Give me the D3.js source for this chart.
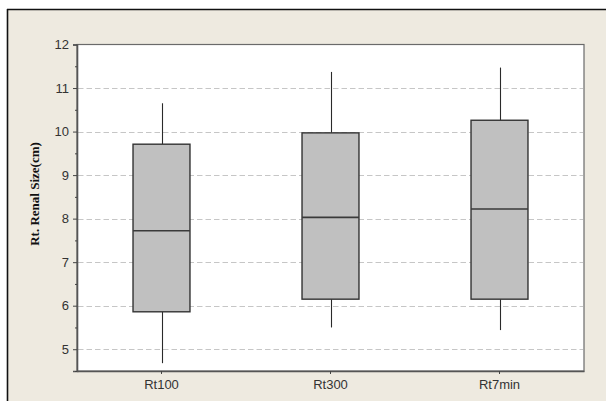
<!DOCTYPE html>
<html>
<head>
<meta charset="utf-8">
<script src="https://cdn.jsdelivr.net/npm/d3@7"></script>
<style>
  html, body { margin: 0; padding: 0; background: #ffffff; }
  svg { display: block; }
</style>
</head>
<body>
<svg id="chart" width="606" height="401"></svg>
<script>
// Right renal size (cm) by acquisition group
const categories = ["Rt100", "Rt300", "Rt7min"];
const whiskerLow = [4.68, 5.50, 5.44];
const q1 = [5.86, 6.15, 6.15];
const median = [7.72, 8.03, 8.22];
const q3 = [9.71, 9.97, 10.26];
const whiskerHigh = [10.65, 11.37, 11.47];
const yMajorTicks = [5, 6, 7, 8, 9, 10, 11, 12];
const yMinorTicks = [4.5, 5.5, 6.5, 7.5, 8.5, 9.5, 10.5, 11.5];
const gridValues = [5, 6, 7, 8, 9, 10, 11];

const svg = d3.select("#chart");
const W = 606, H = 401;
const plot = { left: 77, right: 584, top: 44.5, bottom: 371 };

// outer beige panel with a black frame on top and left
svg.append("rect").attr("x", 7).attr("y", 9).attr("width", W).attr("height", H)
  .attr("fill", "#eeeae0");
svg.append("line").attr("x1", 7).attr("x2", W).attr("y1", 9.5).attr("y2", 9.5)
  .attr("stroke", "#111").attr("stroke-width", 1.6);
svg.append("line").attr("x1", 7.5).attr("x2", 7.5).attr("y1", 9).attr("y2", H)
  .attr("stroke", "#111").attr("stroke-width", 1.6);

// plot area
svg.append("rect").attr("x", plot.left).attr("y", plot.top)
  .attr("width", plot.right - plot.left).attr("height", plot.bottom - plot.top)
  .attr("fill", "#ffffff").attr("stroke", "#6a6a6a").attr("stroke-width", 1.2);

const x = d3.scaleBand().domain(categories).range([plot.left, plot.right]).padding(0);
const y = d3.scaleLinear().domain([4.5, 12]).range([plot.bottom, plot.top]);

// dashed grid lines
svg.append("g").selectAll("line").data(gridValues).join("line")
  .attr("x1", plot.left + 1).attr("x2", plot.right - 1)
  .attr("y1", d => Math.round(y(d)) + 0.5).attr("y2", d => Math.round(y(d)) + 0.5)
  .attr("stroke", "#c6c6c6").attr("stroke-width", 1).attr("stroke-dasharray", "5.5,3");

// boxes
const boxW = x.bandwidth() * 0.337;
const cx = i => x(categories[i]) + x.bandwidth() / 2;
const g = svg.append("g");
categories.forEach((c, i) => {
  const xc = Math.round(cx(i)) + 0.5;
  g.append("line").attr("x1", xc).attr("x2", xc)
    .attr("y1", y(whiskerHigh[i])).attr("y2", y(q3[i]))
    .attr("stroke", "#2a2a2a").attr("stroke-width", 1.1);
  g.append("line").attr("x1", xc).attr("x2", xc)
    .attr("y1", y(q1[i])).attr("y2", y(whiskerLow[i]))
    .attr("stroke", "#2a2a2a").attr("stroke-width", 1.1);
  g.append("rect").attr("x", cx(i) - boxW / 2).attr("y", y(q3[i]))
    .attr("width", boxW).attr("height", y(q1[i]) - y(q3[i]))
    .attr("fill", "#c0c0c0").attr("stroke", "#333").attr("stroke-width", 1.4);
  g.append("line").attr("x1", cx(i) - boxW / 2).attr("x2", cx(i) + boxW / 2)
    .attr("y1", y(median[i])).attr("y2", y(median[i]))
    .attr("stroke", "#3a3a3a").attr("stroke-width", 1.6);
});

// left axis
svg.append("g").attr("transform", `translate(${plot.left},0)`)
  .call(d3.axisLeft(y).tickValues(yMajorTicks).tickSize(4).tickPadding(4).tickFormat(d3.format("d")));
svg.append("g").attr("transform", `translate(${plot.left},0)`)
  .call(d3.axisLeft(y).tickValues(yMinorTicks).tickSize(2).tickFormat(""))
  .call(s => s.select(".domain").remove());
// bottom axis
svg.append("g").attr("transform", `translate(0,${plot.bottom})`)
  .call(d3.axisBottom(x).tickSize(3).tickPadding(6).tickSizeOuter(0));

svg.selectAll(".domain").attr("stroke", "#555").attr("stroke-width", 1.6);
svg.selectAll(".tick line").attr("stroke", "#444");
svg.selectAll(".tick text").attr("fill", "#333")
  .attr("font-family", "'Liberation Sans', Arial, sans-serif").attr("font-size", 13);

// y-axis title
svg.append("text").attr("transform", "translate(38.5,194) rotate(-90)")
  .attr("text-anchor", "middle")
  .attr("font-family", "'Liberation Serif', 'Times New Roman', serif")
  .attr("font-weight", "bold").attr("font-size", 13).attr("fill", "#111")
  .text("Rt. Renal Size(cm)");
</script>
</body>
</html>
